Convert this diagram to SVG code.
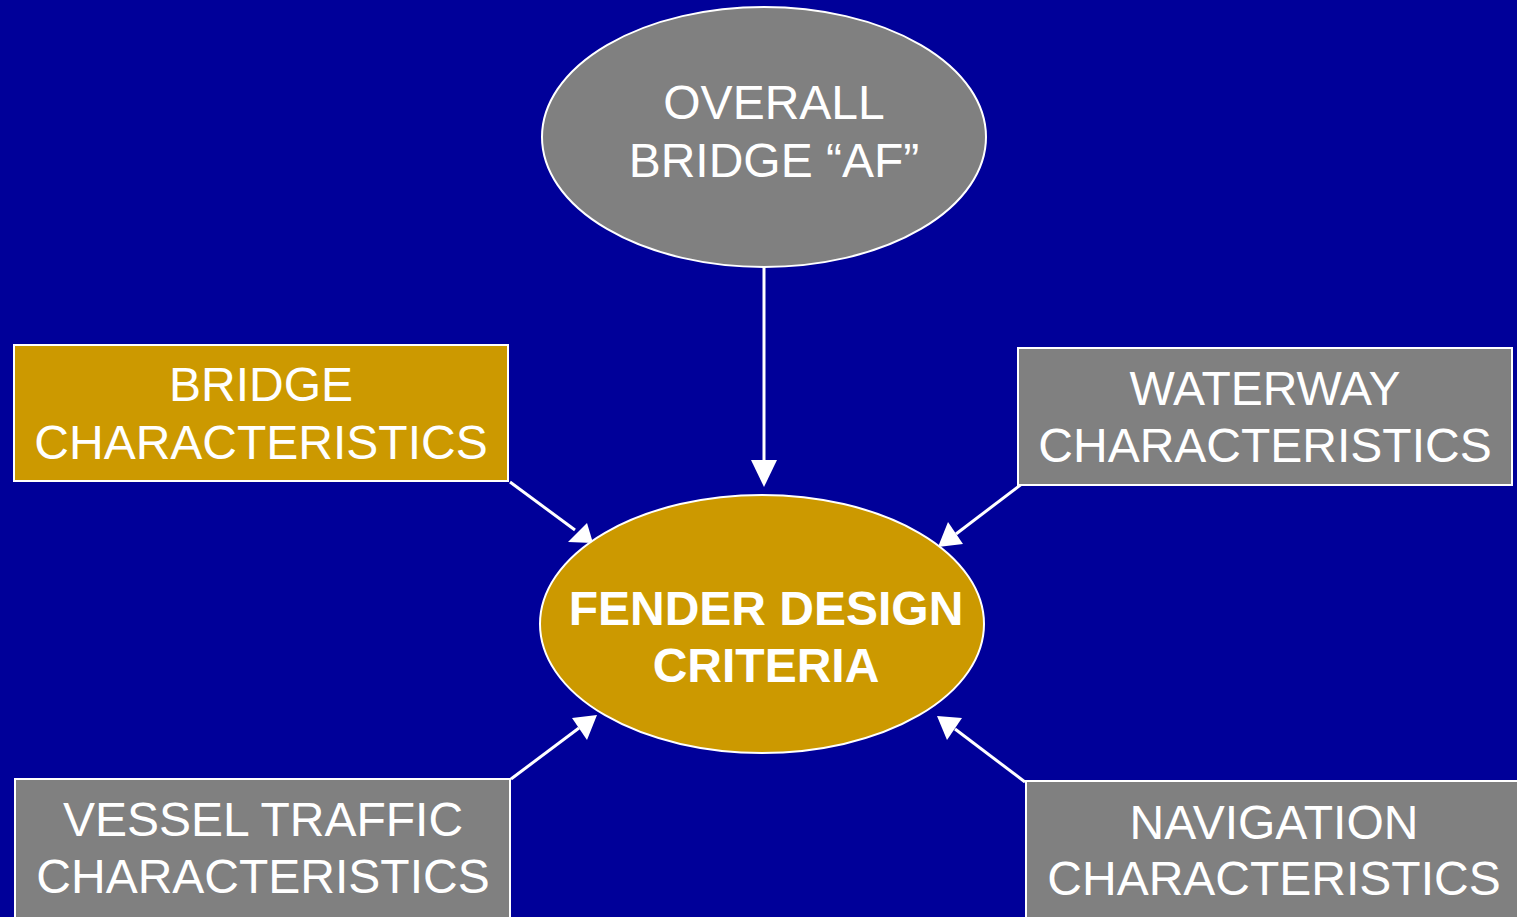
<svg xmlns="http://www.w3.org/2000/svg" width="1517" height="917" viewBox="0 0 1517 917">
<defs>
<style>
.gray{fill:#808080;stroke:#ffffff;stroke-width:2}
.gold{fill:#cc9900;stroke:#ffffff;stroke-width:2}
.t{font-family:"Liberation Sans",Arial,sans-serif;font-size:48px;fill:#ffffff;text-anchor:middle}
.b{font-weight:bold}
.c{stroke:#ffffff;stroke-width:3;fill:none}
.h{fill:#ffffff;stroke:none}
</style>
</defs>
<rect width="1517" height="917" fill="#000099"/>
<g id="connectors">
<line class="c" x1="764" y1="267" x2="764" y2="462"/>
<polygon class="h" points="764,487 751,460 777,460"/>
<line class="c" x1="510" y1="482" x2="575" y2="530"/>
<polygon class="h" points="593,543 568,542 587,523"/>
<line class="c" x1="1023" y1="483" x2="956" y2="534"/>
<polygon class="h" points="938,547 948,522 963,544"/>
<line class="c" x1="511" y1="779" x2="579" y2="728"/>
<polygon class="h" points="597,715 587,740 572,718"/>
<line class="c" x1="1025" y1="782" x2="955" y2="729"/>
<polygon class="h" points="937,716 962,718 947,740"/>
</g>
<g id="overall">
<ellipse class="gray" cx="764" cy="137" rx="222" ry="130"/>
<text class="t" x="774" y="119">OVERALL</text>
<text class="t" x="774" y="177">BRIDGE “AF”</text>
</g>
<g id="fender">
<ellipse class="gold" cx="762" cy="624" rx="222" ry="129"/>
<text class="t b" x="766" y="625">FENDER DESIGN</text>
<text class="t b" x="766" y="682">CRITERIA</text>
</g>
<g id="bridge">
<rect class="gold" x="14" y="345" width="494" height="136"/>
<text class="t" x="261" y="401">BRIDGE</text>
<text class="t" x="261" y="459">CHARACTERISTICS</text>
</g>
<g id="waterway">
<rect class="gray" x="1018" y="348" width="494" height="137"/>
<text class="t" x="1265" y="405">WATERWAY</text>
<text class="t" x="1265" y="462">CHARACTERISTICS</text>
</g>
<g id="vessel">
<rect class="gray" x="15" y="779" width="495" height="150"/>
<text class="t" x="263" y="836">VESSEL TRAFFIC</text>
<text class="t" x="263" y="893">CHARACTERISTICS</text>
</g>
<g id="navigation">
<rect class="gray" x="1026" y="781" width="500" height="150"/>
<text class="t" x="1274" y="839">NAVIGATION</text>
<text class="t" x="1274" y="895">CHARACTERISTICS</text>
</g>
</svg>
